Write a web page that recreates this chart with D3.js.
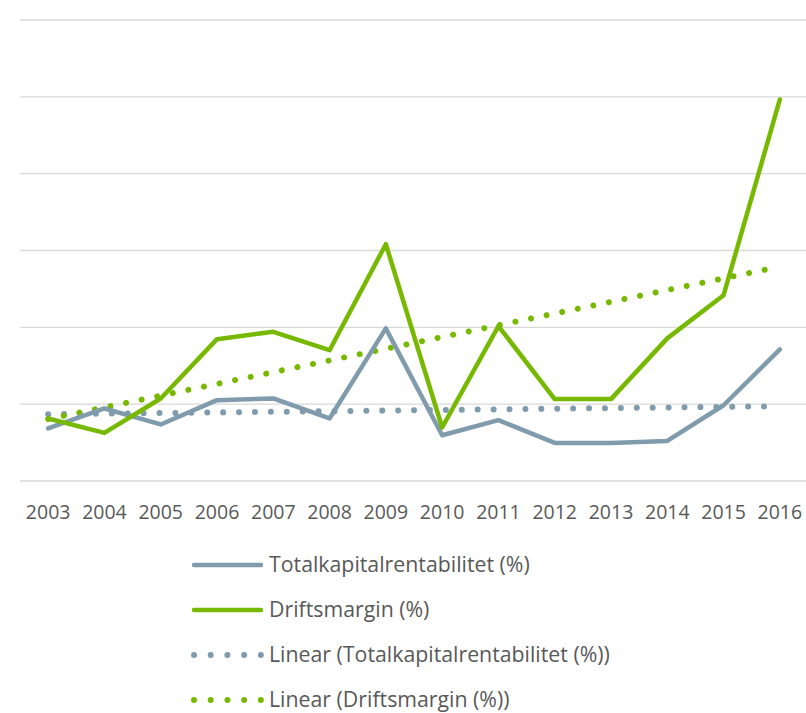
<!DOCTYPE html>
<html>
<head>
<meta charset="utf-8">
<script src="https://cdn.jsdelivr.net/npm/d3@7"></script>
<style>
  html, body { margin: 0; padding: 0; background: #fff; }
  svg { display: block; }
  text { font-family: "Open Sans", "Noto Sans", sans-serif; fill: #595959; }
</style>
</head>
<body>
<svg id="chart" width="806" height="713"></svg>
<script>
const years = ["2003","2004","2005","2006","2007","2008","2009","2010","2011","2012","2013","2014","2015","2016"];
const totalkapital = [-1.58, -0.28, -1.32, 0.26, 0.37, -0.93, 4.93, -2.02, -1.04, -2.52, -2.52, -2.39, -0.07, 3.56];
const driftsmargin = [-0.93, -1.87, 0.37, 4.23, 4.71, 3.51, 10.41, -1.52, 5.08, 0.33, 0.33, 4.28, 7.09, 19.83];
const yTicks = [-5, 0, 5, 10, 15, 20, 25];
const seriesNames = ["Totalkapitalrentabilitet (%)", "Driftsmargin (%)", "Linear (Totalkapitalrentabilitet (%))", "Linear (Driftsmargin (%))"];

const GRAY = "#7F9BAC", GREEN = "#77B800";

const svg = d3.select("#chart");
const x = d3.scaleBand().domain(years).range([20, 808]);
const y = d3.scaleLinear().domain([-5, 25]).range([481, 20]);
const cx = d => x(d) + x.bandwidth() / 2;

// gridlines
svg.append("g").selectAll("line").data(yTicks).join("line")
  .attr("x1", 20).attr("x2", 806)
  .attr("y1", d => y(d)).attr("y2", d => y(d))
  .attr("stroke", "#d9d9d9").attr("stroke-width", 1.3);

// x axis labels
const xAxis = d3.axisBottom(x).tickSize(0).tickPadding(0);
const gx = svg.append("g").attr("transform", "translate(0,504)").call(xAxis);
gx.select(".domain").remove();
gx.selectAll("text").attr("font-size", "19.5px").attr("dy", "0.35em").attr("y", 8)
  .style("font-family", '"Open Sans", sans-serif').attr("fill", "#595959");

// linear regression trend
function trend(vals) {
  const n = vals.length;
  const xs = d3.range(n);
  const mx = d3.mean(xs), my = d3.mean(vals);
  let sxy = 0, sxx = 0;
  xs.forEach((xi, i) => { sxy += (xi - mx) * (vals[i] - my); sxx += (xi - mx) ** 2; });
  const b = sxy / sxx, a = my - b * mx;
  return xs.map(xi => a + b * xi);
}

const line = d3.line().x((d, i) => cx(years[i])).y(d => y(d));

const dotStyle = sel => sel.attr("fill", "none").attr("stroke-width", 6)
  .attr("stroke-linecap", "round").attr("stroke-dasharray", "0.01 15.9");

svg.append("path").datum(trend(totalkapital)).attr("d", line)
  .attr("stroke", GRAY).call(dotStyle);
svg.append("path").datum(trend(driftsmargin)).attr("d", line)
  .attr("stroke", GREEN).call(dotStyle);

svg.append("path").datum(totalkapital).attr("d", line)
  .attr("fill", "none").attr("stroke", GRAY).attr("stroke-width", 4.5)
  .attr("stroke-linejoin", "round").attr("stroke-linecap", "round");
svg.append("path").datum(driftsmargin).attr("d", line)
  .attr("fill", "none").attr("stroke", GREEN).attr("stroke-width", 4.5)
  .attr("stroke-linejoin", "round").attr("stroke-linecap", "round");

// legend
const legendY = [565, 610, 655, 700];
const legendColors = [GRAY, GREEN, GRAY, GREEN];
const legendDotted = [false, false, true, true];
const lg = svg.append("g");
seriesNames.forEach((name, i) => {
  const g = lg.append("g");
  const ln = g.append("line").attr("x1", 194).attr("x2", 261)
    .attr("y1", legendY[i]).attr("y2", legendY[i]).attr("stroke", legendColors[i]);
  if (legendDotted[i]) {
    ln.attr("stroke-width", 6).attr("stroke-linecap", "round").attr("stroke-dasharray", "0.01 16.7");
  } else {
    ln.attr("stroke-width", 4.5).attr("stroke-linecap", "round");
  }
  g.append("text").attr("x", 269).attr("y", legendY[i]).attr("dy", "0.35em")
    .attr("font-size", "21.3px").text(name);
});
</script>
</body>
</html>
